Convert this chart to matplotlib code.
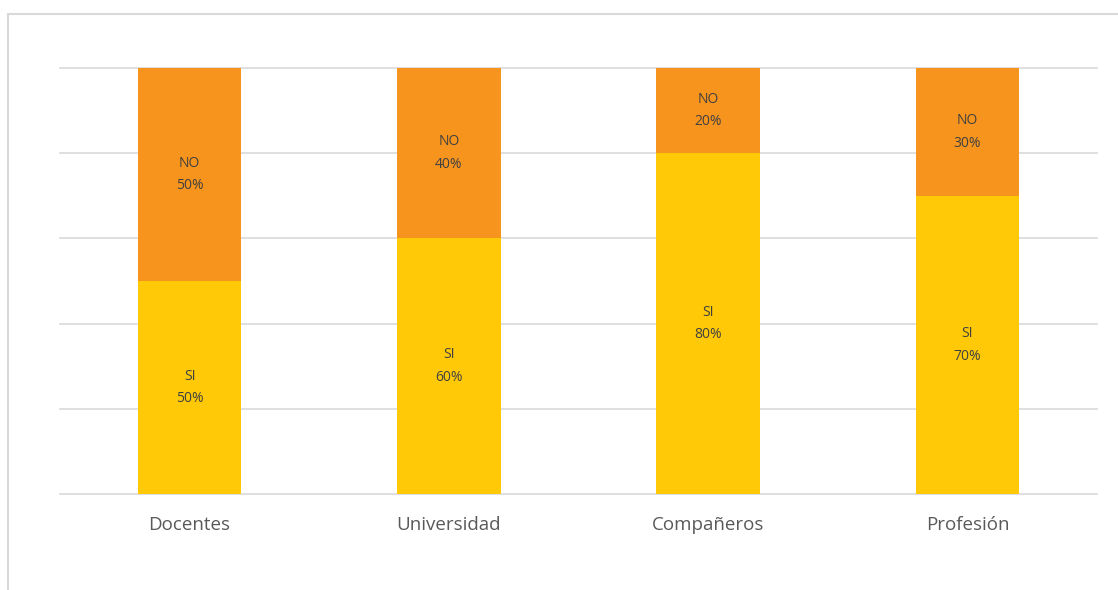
import matplotlib
matplotlib.use("Agg")
import matplotlib.pyplot as plt
from matplotlib.patches import Rectangle

categories = ["Docentes", "Universidad", "Compañeros", "Profesión"]
si_values = [50, 60, 80, 70]
no_values = [50, 40, 20, 30]
series_names = ["SI", "NO"]
colors = ["#FFC907", "#F7941D"]

plt.rcParams['font.family'] = ['Open Sans', 'DejaVu Sans']

W, H = 1118, 590
fig = plt.figure(figsize=(W/100, H/100), dpi=100)
# outer chart frame (cropped on right and bottom)
fig.patches.append(Rectangle((8/W, 1 - 590/H - 0.01), 1.2, (590-14)/H + 0.01,
                             transform=fig.transFigure, fill=False,
                             edgecolor="#D9D9D9", linewidth=1.5))

ax = fig.add_axes([60/W, 1 - 494/H, (1097-60)/W, (494-68)/H])
x = list(range(len(categories)))
ax.bar(x, si_values, width=0.4, color=colors[0], zorder=2)
ax.bar(x, no_values, width=0.4, bottom=si_values, color=colors[1], zorder=2)

for i in x:
    ax.text(i, si_values[i]/2, f"{series_names[0]}\n{si_values[i]}%", ha="center", va="center",
            fontsize=10, color="#404040", linespacing=1.7, zorder=3)
    ax.text(i, si_values[i] + no_values[i]/2, f"{series_names[1]}\n{no_values[i]}%", ha="center",
            va="center", fontsize=10, color="#404040", linespacing=1.7, zorder=3)

ax.set_xlim(-0.5, len(categories) - 0.5)
ax.set_ylim(0, 100)
ax.set_yticks([0, 20, 40, 60, 80, 100])
ax.set_yticklabels([])
ax.tick_params(axis="y", length=0)
ax.tick_params(axis="x", length=0, pad=16, labelsize=13.5, labelcolor="#595959")
ax.set_xticks(x)
ax.set_xticklabels(categories)
ax.grid(axis="y", color="#D9D9D9", linewidth=1.2, zorder=0)
for gl in ax.get_ygridlines():
    gl.set_clip_on(False)
for s in ax.spines.values():
    s.set_visible(False)

fig.savefig("out.png", dpi=100)
